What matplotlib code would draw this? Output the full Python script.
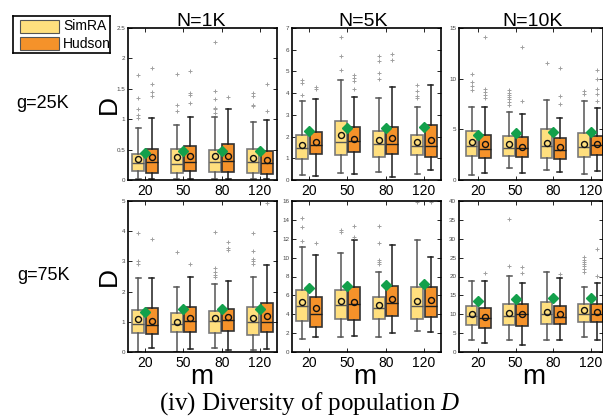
#!/usr/bin/env python3
"""
Boxplot-Raster: Diversitaet D der Population fuer SimRA vs. Hudson
(Zeilen g=25K / g=75K, Spalten N=1K / 5K / 10K, x-Achse m)
"""

import matplotlib
matplotlib.use("Agg")
import matplotlib.pyplot as plt
from matplotlib.patches import Rectangle

plt.rcParams["font.family"] = ["Liberation Sans", "DejaVu Sans"]
plt.rcParams["mathtext.fontset"] = "custom"
plt.rcParams["mathtext.it"] = "Liberation Serif:italic"
plt.rcParams["mathtext.rm"] = "Liberation Serif"

# Kategorien
M_LABELS = ["20", "50", "80", "120"]
COL_TITLES = ["N=1K", "N=5K", "N=10K"]
ROW_TITLES = ["g=25K", "g=75K"]
METHODS = ["SimRA", "Hudson"]

# Reihenfolge der Panels: (25K,1K) (25K,5K) (25K,10K) (75K,1K) (75K,5K) (75K,10K)
YMAX = [2.5, 7, 15, 5, 16, 40]
YTICKS = [
    [0, 0.5, 1, 1.5, 2, 2.5],
    [0, 1, 2, 3, 4, 5, 6, 7],
    [0, 5, 10, 15],
    [0, 1, 2, 3, 4, 5],
    [0, 2, 4, 6, 8, 10, 12, 14, 16],
    [0, 5, 10, 15, 20, 25, 30, 35, 40],
]

# SimRA Kennwerte (pro Panel vier Werte fuer m=20,50,80,120)
simra_q1 = [[0.14, 0.11, 0.13, 0.11], [0.96, 1.16, 1.08, 1.13], [2.37, 2.40, 2.14, 2.30],
            [0.62, 0.65, 0.63, 0.56], [3.31, 3.49, 3.52, 3.49], [7.2, 7.15, 7.3, 8.0]]
simra_med = [[0.275, 0.26, 0.29, 0.29], [1.47, 1.75, 1.67, 1.55], [3.36, 3.19, 3.36, 3.29],
             [0.94, 0.92, 1.03, 1.00], [4.86, 5.00, 4.65, 4.83], [9.6, 9.6, 10.0, 10.1]]
simra_q3 = [[0.42, 0.51, 0.50, 0.51], [2.07, 2.70, 2.27, 2.09], [4.80, 4.30, 5.00, 4.60],
            [1.40, 1.30, 1.35, 1.49], [6.59, 6.59, 5.88, 6.87], [12.2, 12.8, 13.2, 12.7]]
simra_mean = [[0.34, 0.385, 0.40, 0.37], [1.61, 2.09, 1.85, 1.75], [3.78, 3.52, 3.68, 3.55],
              [1.08, 1.00, 1.14, 1.14], [5.25, 5.42, 5.00, 5.42], [10.1, 10.4, 10.5, 11.0]]
simra_lo = [[0.01, 0.01, 0.01, 0.01], [0.23, 0.31, 0.39, 0.26], [0.53, 1.15, 1.00, 0.56],
            [0.01, 0.01, 0.13, 0.08], [1.41, 1.55, 1.55, 2.18], [3.2, 3.2, 3.2, 4.1]]
simra_hi = [[0.86, 0.90, 1.03, 0.95], [3.66, 4.60, 3.79, 3.37], [7.17, 6.70, 7.90, 7.76],
            [2.46, 2.16, 2.24, 2.49], [11.1, 10.5, 8.45, 11.87], [18.8, 20.1, 21.3, 17.1]]
simra_fliers = [
    [[1.72, 1.35, 1.16, 1.07, 1.02], [1.75, 1.23, 1.14], [2.27, 1.46, 1.33, 1.19, 1.16, 1.10], [1.43, 1.38, 1.24, 1.21]],
    [[4.59, 4.48, 3.90], [6.57, 5.72, 5.07], [5.69, 5.49, 4.95, 4.64], [4.36, 4.10, 3.86, 3.79]],
    [[10.5, 9.7, 9.3, 8.9], [8.9, 8.6, 8.4, 8.2, 8.0, 7.7, 7.4], [11.5], [8.8, 8.5]],
    [[3.95, 3.00, 2.92], [3.32], [3.98, 2.79, 2.65, 2.56, 2.49], [3.95, 3.33, 3.08, 3.00, 2.92]],
    [[14.2, 13.2, 11.8], [12.9, 12.75], [13.3, 11.6, 9.76, 9.58, 9.30], [15.9]],
    [[], [35.2, 22.9], [], [25.2, 24.5, 23.9, 23.3, 22.7, 22.0, 21.3]],
]

# Hudson Kennwerte
hudson_q1 = [[0.11, 0.14, 0.13, 0.10], [1.19, 1.27, 1.21, 1.05], [2.14, 2.27, 2.04, 2.47],
             [0.58, 0.67, 0.68, 0.65], [2.64, 3.42, 3.77, 3.66], [6.3, 7.0, 7.3, 8.0]]
hudson_med = [[0.30, 0.29, 0.31, 0.28], [1.59, 1.79, 1.68, 1.58], [3.09, 3.12, 2.96, 3.42],
              [0.89, 1.02, 1.06, 1.00], [4.05, 5.07, 5.18, 4.83], [9.1, 10.0, 9.2, 10.1]]
hudson_q3 = [[0.51, 0.56, 0.59, 0.48], [2.21, 2.43, 2.44, 2.55], [4.40, 4.20, 4.10, 4.37],
             [1.45, 1.48, 1.43, 1.62], [5.88, 6.87, 7.00, 6.94], [11.6, 12.6, 12.2, 12.6]]
hudson_mean = [[0.385, 0.40, 0.39, 0.33], [1.73, 1.89, 1.93, 1.86], [3.52, 3.29, 3.29, 3.55],
               [1.03, 1.11, 1.16, 1.19], [4.65, 5.35, 5.60, 5.53], [9.3, 10.1, 10.1, 10.6]]
hudson_lo = [[0.01, 0.01, 0.01, 0.01], [0.20, 0.28, 0.15, 0.46], [0.66, 0.66, 0.82, 0.92],
             [0.14, 0.11, 0.05, 0.09], [1.55, 1.66, 2.00, 2.08], [2.5, 1.85, 3.1, 3.2]]
hudson_hi = [[1.02, 1.03, 1.17, 0.99], [3.71, 3.82, 4.30, 4.39], [7.24, 6.50, 6.15, 7.07],
             [2.46, 2.49, 2.35, 2.87], [10.3, 11.87, 11.35, 10.1], [18.8, 18.4, 19.5, 18.4]]
hudson_fliers = [
    [[1.84, 1.58, 1.44, 1.38], [1.80, 1.43, 1.40, 1.27], [1.36], [1.58, 1.13]],
    [[4.30, 4.20], [4.82, 4.68, 4.56, 4.17], [5.80, 5.52], []],
    [[14.1, 9.0, 8.7, 8.4, 8.1], [13.1, 7.8], [11.1, 8.3, 7.5], [10.9, 10.0, 9.0, 8.5, 7.8]],
    [[3.73], [2.91], [3.63, 3.46, 3.39], [4.92]],
    [[11.6], [13.3, 12.2], [], [15.9]],
    [[20.9], [22.4, 20.9], [20.7], [27.3, 20.1]],
]

# gruene Rauten (Referenzwert je m)
diamond = [[0.45, 0.48, 0.48, 0.47], [2.24, 2.38, 2.40, 2.43], [4.44, 4.67, 4.77, 4.77],
           [1.33, 1.41, 1.43, 1.43], [6.76, 7.00, 7.10, 7.20], [13.4, 14.1, 14.4, 14.4]]

# Farben
C_SIMRA = "#FFDF7E"
C_HUDSON = "#F5922A"
C_GREEN = "#13A04B"


def make_stats(q1, med, q3, mean, lo, hi, fl):
    return [dict(q1=q1[i], med=med[i], q3=q3[i], mean=mean[i],
                 whislo=lo[i], whishi=hi[i], fliers=fl[i]) for i in range(4)]


def draw_method(ax, stats, pos, fill, edge, whisk):
    ax.bxp(stats, positions=pos, widths=0.31, patch_artist=True,
           showmeans=True, capwidths=0.13,
           boxprops=dict(facecolor=fill, edgecolor=edge, linewidth=1.2),
           medianprops=dict(color=whisk, linewidth=1.0),
           whiskerprops=dict(color=whisk, linewidth=1.1),
           capprops=dict(color=whisk, linewidth=1.1),
           meanprops=dict(marker="o", markerfacecolor="none",
                          markeredgecolor="#111111", markersize=4.3, markeredgewidth=1.0),
           flierprops=dict(marker="+", markeredgecolor="#a0a0a0", markersize=3,
                           markeredgewidth=0.7, linestyle="none"))


# Panel-Positionen in Pixeln (links, rechts, oben, unten)
W, H = 603, 416
PX_X = [(128, 277), (292, 441), (459, 603)]
PX_Y = [(28, 180), (201, 352)]
XLIMS = [(0.56, 4.44), (0.56, 4.44), (0.49, 4.33)]

fig = plt.figure(figsize=(W / 100, H / 100), dpi=100)

xs = [1, 2, 3, 4]
off = 0.175
for p in range(6):
    r, c = divmod(p, 3)
    x0, x1 = PX_X[c]
    y0, y1 = PX_Y[r]
    ax = fig.add_axes([x0 / W, 1 - y1 / H, (x1 - x0) / W, (y1 - y0) / H])

    s_stats = make_stats(simra_q1[p], simra_med[p], simra_q3[p], simra_mean[p],
                         simra_lo[p], simra_hi[p], simra_fliers[p])
    h_stats = make_stats(hudson_q1[p], hudson_med[p], hudson_q3[p], hudson_mean[p],
                         hudson_lo[p], hudson_hi[p], hudson_fliers[p])
    draw_method(ax, s_stats, [x - off for x in xs], C_SIMRA, "#7a7a7a", "#555555")
    draw_method(ax, h_stats, [x + off for x in xs], C_HUDSON, "#333333", "#1e1e1e")
    ax.plot(xs, diamond[p], linestyle="none", marker="D", color=C_GREEN,
            markersize=5.2, zorder=5)

    ax.set_xlim(*XLIMS[c])
    ax.set_ylim(0, YMAX[p])
    ax.set_xticks(xs)
    ax.set_xticklabels(M_LABELS, fontsize=10)
    ax.set_yticks(YTICKS[p])
    ax.set_yticklabels([f"{t:g}" for t in YTICKS[p]], fontsize=4.5, color="#444444")
    ax.tick_params(direction="in", top=True, right=True, length=3, width=0.6, pad=2)
    ax.tick_params(axis="x", pad=3)
    for sp in ax.spines.values():
        sp.set_linewidth(1.2)

# Spaltentitel
for c, t in enumerate(COL_TITLES):
    cx = [201, 363, 533][c]
    fig.text(cx / W, 1 - 21 / H, t, ha="center", va="center", fontsize=14)

# Zeilentitel und D-Label
for r, t in enumerate(ROW_TITLES):
    cy = [104, 276][r]
    fig.text(43 / W, 1 - cy / H, t, ha="center", va="center", fontsize=13)
    fig.text(109 / W, 1 - cy / H, "D", ha="center", va="center", fontsize=19, rotation=90)

# m unter jeder Spalte
for cx in [202, 365, 534]:
    fig.text(cx / W, 1 - 384 / H, "m", ha="center", va="baseline", fontsize=20)

# Bildunterschrift
fig.text(310 / W, 1 - 410 / H, r"(iv) Diversity of population $D$", ha="center",
         va="baseline", fontsize=18, family="Liberation Serif")

# Legende (von Hand, wie im Original)
lax = fig.add_axes([13 / W, 1 - 53 / H, 97 / W, 37 / H])
lax.set_xlim(0, 97)
lax.set_ylim(37, 0)
lax.set_xticks([])
lax.set_yticks([])
for sp in lax.spines.values():
    sp.set_linewidth(1.2)
for i, (name, col) in enumerate(zip(METHODS, [C_SIMRA, C_HUDSON])):
    yy = 4 + i * 17
    lax.add_patch(Rectangle((7, yy), 39, 12.5, facecolor=col, edgecolor="#555555", linewidth=0.8))
    lax.text(50, yy + 6.5, name, va="center", ha="left", fontsize=10)

fig.savefig("out.png", dpi=100)
